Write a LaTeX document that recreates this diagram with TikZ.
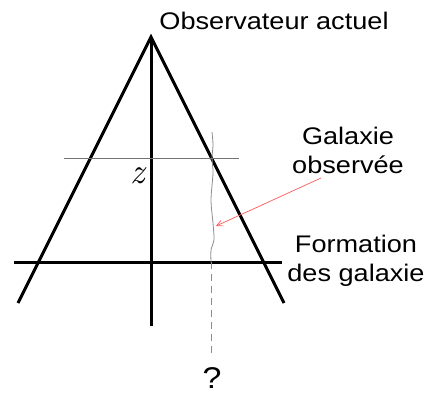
\documentclass[tikz,border=0pt]{standalone}
\usepackage{fontspec}
\newfontfamily\labelfont[FakeStretch=1.13]{Liberation Sans}
\usetikzlibrary{arrows.meta}

\begin{document}
\begin{tikzpicture}[x=1pt,y=-1pt,
    coneline/.style={line width=3pt,black},
    levelline/.style={line width=0.9pt,black!55},
    worldline/.style={line width=0.8pt,black!45},
    pointer/.style={line width=0.7pt,red!65,-{Straight Barb[length=6pt,width=6pt]}},
    labeltext/.style={font=\labelfont\fontsize{24}{29}\selectfont,align=center,inner sep=0pt}]
    \useasboundingbox (0,0) rectangle (430,394);

    % Cone
    \coordinate (apex) at (151,37);
    \coordinate (leftfoot) at (18,303);
    \coordinate (rightfoot) at (284,303);
    \coordinate (axisend) at (151,326);
    \draw[coneline] (leftfoot) -- (apex) -- (rightfoot);
    \draw[coneline] (apex) -- (axisend);

    % Levels
    \coordinate (formleft) at (14,262);
    \coordinate (formright) at (282,262);
    \draw[coneline] (formleft) -- (formright);
    \coordinate (zleft) at (64,158);
    \coordinate (zright) at (239,158);
    \draw[levelline] (zleft) -- (zright);
    \node[font=\fontsize{36}{36}\selectfont\itshape,inner sep=0pt] (zlabel) at (138,176) {z};

    % Galaxy world line
    \coordinate (linetop) at (212,132);
    \coordinate (galaxy) at (216,226);
    \coordinate (lineform) at (211,262);
    \coordinate (lineend) at (211,355);
    \draw[worldline] plot[smooth] coordinates {(linetop) (213,145) (212,158) (213,173)
        (211,200) (213,223) (214,240) (211,250) (lineform)};
    \draw[worldline,dash pattern=on 7pt off 5pt] (lineform) -- (lineend);
    \node[font=\labelfont\fontsize{30}{30}\selectfont,inner sep=0pt,anchor=base] (unknown) at (212,388) {?};

    % Labels
    \node[labeltext,anchor=base] (observer) at (274,29) {Observateur actuel};
    \node[labeltext] (observed) at (348,150) {Galaxie\\observée};
    \node[labeltext] (formation) at (356,261) {Formation\\des galaxie};
    \coordinate (pointstart) at (321,178);
    \draw[pointer] (pointstart) -- (galaxy);
\end{tikzpicture}
\end{document}
